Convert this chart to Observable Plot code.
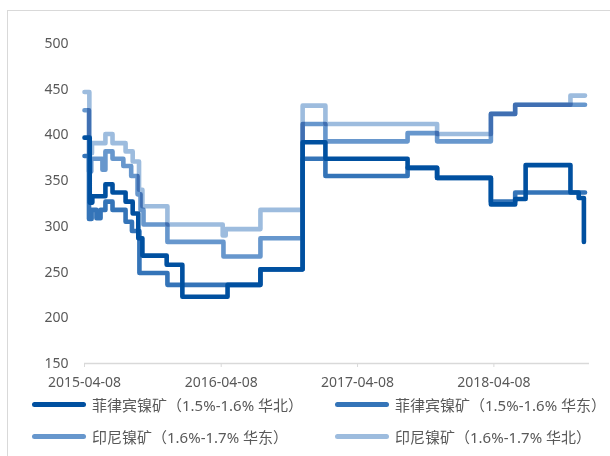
<!DOCTYPE html>
<html>
<head>
<meta charset="utf-8">
<script src="https://cdn.jsdelivr.net/npm/d3@7"></script>
<script src="https://cdn.jsdelivr.net/npm/@observablehq/plot@0.6"></script>
<style>
  html, body { margin: 0; padding: 0; background: #fff; }
  body { width: 610px; height: 456px; overflow: hidden; position: relative; font-family: "Noto Sans", "Noto Sans CJK SC", sans-serif; }
  #frame { position: absolute; left: 7px; top: 10px; width: 640px; height: 480px; border: 1px solid #d9d9d9; box-sizing: border-box; }
  #chart { position: absolute; left: 0; top: 0; }
  .leg { position: absolute; display: flex; align-items: center; font-size: 15px; color: #595959; font-family: "Noto Sans", "Noto Sans CJK SC", sans-serif; white-space: nowrap; }
  .sw { width: 54px; height: 5px; border-radius: 3px; margin-right: 6px; }
</style>
</head>
<body>
<div id="frame"></div>
<div id="chart"></div>
<div id="legend"></div>
<script>
// Series names (legend order)
const seriesNames = [
  "菲律宾镍矿（1.5%-1.6% 华北）",
  "菲律宾镍矿（1.5%-1.6% 华东）",
  "印尼镍矿（1.6%-1.7% 华东）",
  "印尼镍矿（1.6%-1.7% 华北）"
];
const seriesColors = ["#0050a0", "#3474b8", "#6797cd", "#9dbcde"];

// 菲律宾镍矿 1.5%-1.6% 华北 (date, price)
const philNorth = [
  ["2015-04-08", 397], ["2015-04-22", 326], ["2015-04-29", 333], ["2015-06-03", 346],
  ["2015-06-22", 337], ["2015-07-27", 327], ["2015-08-15", 314], ["2015-08-30", 287],
  ["2015-09-10", 268], ["2015-11-14", 258], ["2015-12-26", 223], ["2016-04-25", 236],
  ["2016-07-22", 253], ["2016-11-12", 392], ["2017-01-12", 374], ["2017-08-20", 364],
  ["2017-11-07", 353], ["2018-03-31", 324], ["2018-06-04", 330], ["2018-07-02", 367],
  ["2018-10-30", 337], ["2018-11-21", 331], ["2018-12-05", 283]
];
// 菲律宾镍矿 1.5%-1.6% 华东
const philEast = [
  ["2015-04-08", 377], ["2015-04-20", 308], ["2015-04-27", 318], ["2015-05-10", 309],
  ["2015-05-21", 318], ["2015-06-03", 327], ["2015-06-22", 318], ["2015-07-27", 305],
  ["2015-08-13", 295], ["2015-09-02", 249], ["2015-11-16", 236], ["2016-07-22", 253],
  ["2016-11-12", 374], ["2017-01-12", 355], ["2017-08-20", 364], ["2017-11-07", 353],
  ["2018-03-31", 327], ["2018-06-04", 337], ["2018-12-08", 337]
];
// 印尼镍矿 1.6%-1.7% 华东
const indoEast = [
  ["2015-04-08", 427], ["2015-04-20", 360], ["2015-04-26", 374], ["2015-05-26", 362],
  ["2015-06-03", 382], ["2015-06-22", 374], ["2015-07-21", 366], ["2015-08-11", 355],
  ["2015-08-28", 335], ["2015-09-05", 318], ["2015-09-13", 302], ["2015-11-16", 283],
  ["2016-04-14", 267], ["2016-07-22", 287], ["2016-11-12", 412], ["2017-01-12", 393],
  ["2017-08-20", 402], ["2017-11-07", 393], ["2018-03-31", 423], ["2018-06-04", 433],
  ["2018-12-08", 433]
];
// 印尼镍矿 1.6%-1.7% 华北
const indoNorth = [
  ["2015-04-08", 447], ["2015-04-21", 380], ["2015-04-28", 391], ["2015-06-03", 401],
  ["2015-06-22", 391], ["2015-07-27", 382], ["2015-08-15", 371], ["2015-09-01", 340],
  ["2015-09-10", 322], ["2015-11-16", 302], ["2016-04-12", 290], ["2016-04-20", 297],
  ["2016-07-22", 318], ["2016-11-12", 432], ["2017-01-12", 412], ["2017-11-07", 401],
  ["2018-03-31", 423], ["2018-06-04", 433], ["2018-10-30", 443], ["2018-12-08", 443]
];

const xTickLabels = ["2015-04-08", "2016-04-08", "2017-04-08", "2018-04-08"];
const yTicks = [150, 200, 250, 300, 350, 400, 450, 500];

const parse = d3.utcParse("%Y-%m-%d");
const allSeries = [philNorth, philEast, indoEast, indoNorth];
const rows = allSeries.map((arr, i) => arr.map(([d, v]) => ({date: parse(d), value: v, series: seriesNames[i]})));

const lineOpts = (i, extra = {}) => ({
  x: "date", y: "value", curve: "step-after",
  stroke: seriesColors[i], strokeWidth: 4.6,
  strokeLinejoin: "round", strokeLinecap: "round", ...extra
});

const chart = Plot.plot({
  width: 610,
  height: 395,
  marginLeft: 84,
  marginRight: 21,
  marginTop: 43,
  marginBottom: 32,
  style: {fontFamily: '"Noto Sans", "Noto Sans CJK SC", sans-serif', fontSize: "13.5px", color: "#595959", background: "transparent"},
  x: {type: "utc", domain: [parse("2015-04-08"), parse("2018-12-20")]},
  y: {domain: [150, 500]},
  marks: [
    Plot.ruleY([150], {stroke: "#d9d9d9", strokeWidth: 1.3}),
    Plot.axisX(xTickLabels.map(parse), {tickSize: 4, tickPadding: 10, stroke: "#d9d9d9", fill: "#595959", tickFormat: d3.utcFormat("%Y-%m-%d"), label: null, fontSize: 14}),
    Plot.axisY(yTicks, {tickSize: 0, tickPadding: 16, fill: "#595959", label: null, fontSize: 14}),
    Plot.line(rows[3], lineOpts(3)),
    Plot.line(rows[2], lineOpts(2, {mixBlendMode: "multiply"})),
    Plot.line(rows[1], lineOpts(1)),
    Plot.line(rows[0], lineOpts(0))
  ]
});
document.getElementById("chart").appendChild(chart);

// Legend (HTML, below the SVG)
const legendPos = [[32, 404], [335, 404], [32, 436], [335, 436]];
const legend = document.getElementById("legend");
seriesNames.forEach((name, i) => {
  const item = document.createElement("div");
  item.className = "leg";
  item.style.left = legendPos[i][0] + "px";
  item.style.top = (legendPos[i][1] - 11) + "px";
  item.style.height = "22px";
  const sw = document.createElement("div");
  sw.className = "sw";
  sw.style.background = seriesColors[i];
  const tx = document.createElement("span");
  tx.textContent = name;
  item.appendChild(sw);
  item.appendChild(tx);
  legend.appendChild(item);
});
</script>
</body>
</html>
